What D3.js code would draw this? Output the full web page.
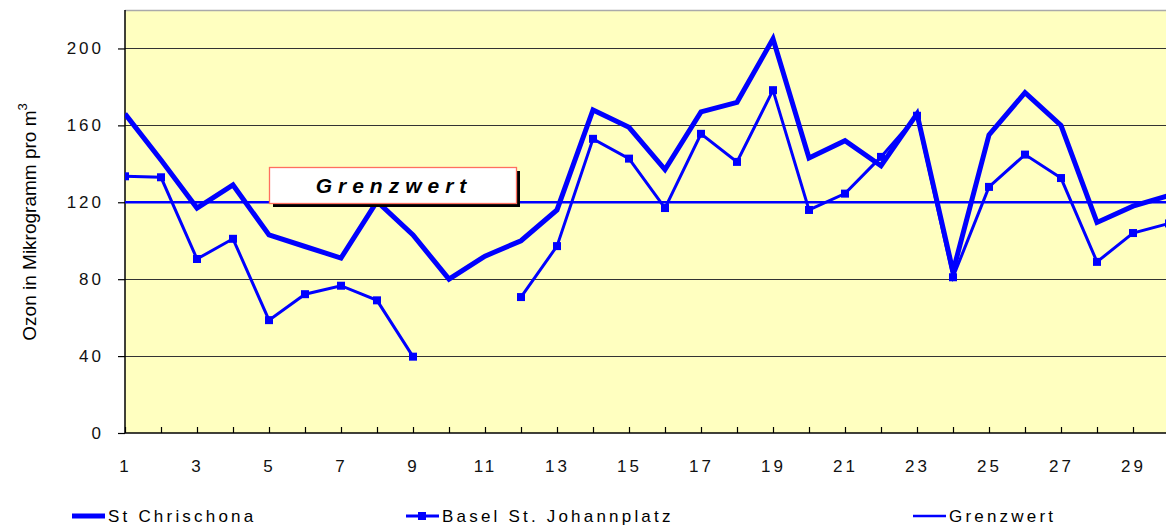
<!DOCTYPE html>
<html>
<head>
<meta charset="utf-8">
<script src="https://cdn.jsdelivr.net/npm/d3@7"></script>
<style>
body { margin: 0; background: #fff; }
text { font-family: Arial, "Liberation Sans", sans-serif; }
</style>
</head>
<body>
<svg width="1166" height="528"></svg>
<script>
var margin = {top: 10, right: 0, bottom: 95, left: 125};
var width = 1166;
var height = 528;

// Tage des Monats
var days = d3.range(1, 31);
// Ozon St Chrischona
var chrischona = [166, 142, 117, 129, 103, 97, 91, 120.5, 103, 80, 92, 100, 116, 168, 159, 137, 167, 172, 205, 143, 152, 139, 166, 84, 155, 177, 160, 109.5, 118, 123.5];
// Ozon Basel St. Johannplatz (null = fehlt)
var basel = [133.5, 133, 90.5, 101, 58.7, 72.2, 76.6, 69, 39.7, null, null, 70.7, 97.2, 153, 142.7, 117, 155.6, 141, 178.3, 116, 124.5, 143.6, 165, 81, 128, 144.8, 132.6, 89, 104, 109];
var grenzwert = 120;
var yTicks = [0, 40, 80, 120, 160, 200];
var seriesNames = ["St Chrischona", "Basel St. Johannplatz", "Grenzwert"];

var blue = "#0000ff";
var svg = d3.select("svg");

var xScale = d3.scaleLinear().domain([1, 30]).range([margin.left, margin.left + 29 * 36]);
var yScale = d3.scaleLinear().domain([0, 220]).range([height - margin.bottom, margin.top]);

var plotRight = width;
var plotBottom = height - margin.bottom;

// Hintergrund
svg.append("rect")
  .attr("x", margin.left).attr("y", margin.top)
  .attr("width", plotRight - margin.left).attr("height", plotBottom - margin.top)
  .attr("fill", "#ffffc0");
svg.append("line")
  .attr("x1", margin.left).attr("x2", plotRight)
  .attr("y1", margin.top + 0.5).attr("y2", margin.top + 0.5)
  .attr("stroke", "#aaa").attr("stroke-width", 1.5);

svg.append("clipPath").attr("id", "plot")
  .append("rect")
  .attr("x", margin.left).attr("y", margin.top)
  .attr("width", plotRight - margin.left).attr("height", plotBottom - margin.top);

// Gitterlinien
svg.append("g")
  .selectAll("line")
  .data(yTicks.filter(d => d > 0))
  .enter().append("line")
  .attr("x1", margin.left).attr("x2", plotRight)
  .attr("y1", d => Math.round(yScale(d)) + 0.5).attr("y2", d => Math.round(yScale(d)) + 0.5)
  .attr("stroke", "#333").attr("stroke-width", 1.2);

// Y-Achse
var yAxis = d3.axisLeft(yScale).tickValues(yTicks).tickSize(7).tickPadding(14);
var yAxisGroup = svg.append("g")
  .attr("transform", "translate(" + margin.left + ",0)")
  .call(yAxis);
yAxisGroup.selectAll("text")
  .attr("font-size", 17).attr("fill", "#111")
  .style("letter-spacing", "3px");

// X-Achse
var xAxis = d3.axisBottom(xScale).tickValues(days.slice(0, 29))
  .tickSize(-6).tickPadding(27)
  .tickFormat(d => d % 2 === 1 ? d : "");
var xAxisGroup = svg.append("g")
  .attr("transform", "translate(0," + plotBottom + ")")
  .call(xAxis);
xAxisGroup.selectAll("text")
  .attr("font-size", 17).attr("fill", "#111")
  .style("letter-spacing", "3px");
svg.selectAll(".domain").attr("stroke", "#000").attr("stroke-width", 1.5);
xAxisGroup.select(".domain").attr("d", "M" + margin.left + ",0H" + plotRight);
yAxisGroup.select(".domain").attr("d", "M0," + plotBottom + "V" + margin.top);
svg.selectAll(".tick line").attr("stroke", "#000").attr("stroke-width", 1.2);

var lines = svg.append("g").attr("clip-path", "url(#plot)");

// Grenzwert-Linie
lines.append("path")
  .datum(days)
  .attr("fill", "none").attr("stroke", blue).attr("stroke-width", 2.5)
  .attr("d", d3.line().x(d => xScale(d)).y(() => yScale(grenzwert)));

// Basel
var baselData = days.map((d, i) => ({day: d, v: basel[i]}));
lines.append("path")
  .datum(baselData)
  .attr("fill", "none").attr("stroke", blue).attr("stroke-width", 3)
  .attr("stroke-linejoin", "miter")
  .attr("d", d3.line().defined(d => d.v !== null).x(d => xScale(d.day)).y(d => yScale(d.v)));
lines.selectAll(".marker")
  .data(baselData.filter(d => d.v !== null))
  .enter().append("rect")
  .attr("class", "marker")
  .attr("x", d => xScale(d.day) - 4).attr("y", d => yScale(d.v) - 4)
  .attr("width", 8).attr("height", 8)
  .attr("fill", blue);

// Chrischona
lines.append("path")
  .datum(days.map((d, i) => ({day: d, v: chrischona[i]})))
  .attr("fill", "none").attr("stroke", blue).attr("stroke-width", 5)
  .attr("stroke-linejoin", "miter")
  .attr("d", d3.line().x(d => xScale(d.day)).y(d => yScale(d.v)));

// Textfeld Grenzwert
var box = svg.append("g").attr("transform", "translate(269,167)");
box.append("rect").attr("x", 4).attr("y", 4).attr("width", 247).attr("height", 36).attr("fill", "#000");
box.append("rect").attr("x", 0.5).attr("y", 0.5).attr("width", 247).attr("height", 36)
  .attr("fill", "#fff").attr("stroke", "#ff6f5f").attr("stroke-width", 1.3);
box.append("text")
  .attr("x", 125).attr("y", 26)
  .attr("text-anchor", "middle")
  .attr("font-size", 21).attr("font-weight", "bold").attr("font-style", "italic")
  .style("letter-spacing", "6px")
  .text("Grenzwert");

// Achsentitel
var title = svg.append("text")
  .attr("transform", "translate(36,222) rotate(-90)")
  .attr("text-anchor", "middle")
  .attr("font-size", 19);
title.append("tspan").text("Ozon in Mikrogramm pro m");
title.append("tspan").attr("dy", -9).attr("font-size", 13).text("3");

// Legende
var legend = [
  {x: 72, w: 5, marker: false},
  {x: 406, w: 3, marker: true},
  {x: 913, w: 2.5, marker: false}
];
var lg = svg.append("g").selectAll("g")
  .data(legend)
  .enter().append("g")
  .attr("transform", d => "translate(" + d.x + ",516)");
lg.append("line")
  .attr("x1", 0).attr("x2", 33).attr("y1", 0).attr("y2", 0)
  .attr("stroke", blue).attr("stroke-width", d => d.w);
lg.filter(d => d.marker).append("rect")
  .attr("x", 12).attr("y", -4).attr("width", 8).attr("height", 8).attr("fill", blue);
lg.append("text")
  .attr("x", 36).attr("y", 6)
  .attr("font-size", 17)
  .style("letter-spacing", "3.2px")
  .text((d, i) => seriesNames[i]);
</script>
</body>
</html>
